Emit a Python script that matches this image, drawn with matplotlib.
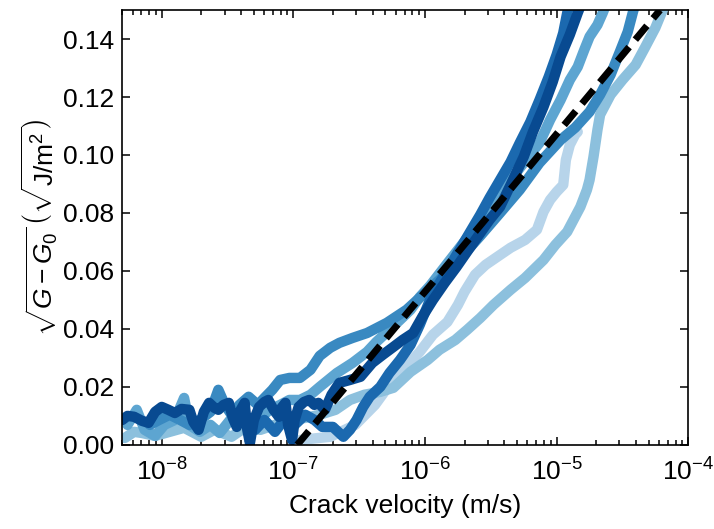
import numpy as np
import matplotlib
matplotlib.use('Agg')
import matplotlib.pyplot as plt

plt.rcParams['font.family'] = ['Liberation Sans', 'DejaVu Sans']
plt.rcParams['mathtext.fontset'] = 'custom'
plt.rcParams['mathtext.rm'] = 'Liberation Sans'
plt.rcParams['mathtext.it'] = 'Liberation Sans:italic'
plt.rcParams['mathtext.bf'] = 'Liberation Sans:bold'

# (log10 crack velocity [m/s], sqrt(G - G0) [sqrt(J/m^2)])
run0 = [(-6.95, 0.0017), (-6.72, 0.0028), (-6.53, 0.0069), (-6.38, 0.0138), (-6.27, 0.0207),
        (-6.15, 0.0266), (-6.04, 0.0321), (-5.94, 0.0380), (-5.83, 0.0424), (-5.75, 0.0483),
        (-5.70, 0.0528), (-5.62, 0.0587), (-5.54, 0.0621), (-5.45, 0.0649), (-5.35, 0.0680),
        (-5.24, 0.0707), (-5.15, 0.0742), (-5.10, 0.0804), (-5.05, 0.0845), (-5.00, 0.0873),
        (-4.95, 0.0897), (-4.93, 0.0983), (-4.90, 0.1035), (-4.86, 0.1070), (-4.84, 0.1080)]

run1 = [(-8.28, 0.0024), (-8.21, 0.0045), (-8.15, 0.0041), (-8.05, 0.0031), (-7.94, 0.0045),
        (-7.83, 0.0059), (-7.70, 0.0028), (-7.60, 0.0052), (-7.47, 0.0028), (-7.37, 0.0059),
        (-7.25, 0.0052), (-7.14, 0.0069), (-7.03, 0.0086), (-6.91, 0.0093), (-6.80, 0.0104),
        (-6.68, 0.0121), (-6.57, 0.0155), (-6.46, 0.0173), (-6.34, 0.0183), (-6.24, 0.0197),
        (-6.11, 0.0252), (-5.98, 0.0293), (-5.89, 0.0328), (-5.77, 0.0362), (-5.68, 0.0397),
        (-5.58, 0.0438), (-5.48, 0.0483), (-5.35, 0.0535), (-5.24, 0.0576), (-5.10, 0.0638),
        (-5.01, 0.0690), (-4.92, 0.0735), (-4.82, 0.0821), (-4.77, 0.0880), (-4.75, 0.0914),
        (-4.72, 0.0994), (-4.69, 0.1087), (-4.67, 0.1139), (-4.59, 0.1208), (-4.50, 0.1259),
        (-4.40, 0.1311), (-4.33, 0.1370), (-4.25, 0.1439), (-4.20, 0.1494), (-4.17, 0.1525)]

run2 = [(-8.26, 0.0069), (-8.19, 0.0121), (-8.13, 0.0052), (-8.05, 0.0031), (-7.98, 0.0069),
        (-7.90, 0.0086), (-7.83, 0.0162), (-7.79, 0.0069), (-7.71, 0.0045), (-7.63, 0.0069),
        (-7.56, 0.0041), (-7.48, 0.0086), (-7.41, 0.0104), (-7.33, 0.0069), (-7.25, 0.0093),
        (-7.18, 0.0121), (-7.10, 0.0138), (-7.03, 0.0155), (-6.95, 0.0155), (-6.87, 0.0173),
        (-6.80, 0.0200), (-6.67, 0.0248), (-6.55, 0.0283), (-6.44, 0.0321), (-6.37, 0.0355),
        (-6.27, 0.0397), (-6.19, 0.0431), (-6.11, 0.0466), (-6.04, 0.0510), (-5.96, 0.0550),
        (-5.81, 0.0638), (-5.66, 0.0725), (-5.51, 0.0828), (-5.35, 0.0914), (-5.25, 0.0973),
        (-5.13, 0.1042), (-5.05, 0.1121), (-4.97, 0.1190), (-4.90, 0.1259), (-4.84, 0.1304),
        (-4.79, 0.1363), (-4.75, 0.1408), (-4.69, 0.1449), (-4.65, 0.1490), (-4.62, 0.1525)]

run3 = [(-8.09, 0.0069), (-8.02, 0.0086), (-7.94, 0.0104), (-7.86, 0.0086), (-7.79, 0.0069),
        (-7.71, 0.0086), (-7.63, 0.0114), (-7.57, 0.0190), (-7.52, 0.0138), (-7.47, 0.0104),
        (-7.41, 0.0138), (-7.34, 0.0166), (-7.27, 0.0138), (-7.22, 0.0162), (-7.16, 0.0190),
        (-7.10, 0.0224), (-7.03, 0.0231), (-6.95, 0.0231), (-6.87, 0.0259), (-6.80, 0.0307),
        (-6.72, 0.0335), (-6.65, 0.0352), (-6.55, 0.0369), (-6.44, 0.0386), (-6.29, 0.0421),
        (-6.14, 0.0466), (-6.00, 0.0524), (-5.89, 0.0569), (-5.73, 0.0645), (-5.58, 0.0721),
        (-5.43, 0.0800), (-5.28, 0.0880), (-5.13, 0.0973), (-4.97, 0.1052), (-4.86, 0.1094),
        (-4.75, 0.1149), (-4.67, 0.1208), (-4.59, 0.1277), (-4.52, 0.1356), (-4.46, 0.1425),
        (-4.42, 0.1494), (-4.40, 0.1525)]

run4 = [(-7.29, 0.0052), (-7.22, 0.0086), (-7.14, 0.0045), (-7.06, 0.0093), (-6.99, 0.0069),
        (-6.91, 0.0104), (-6.84, 0.0086), (-6.78, 0.0062), (-6.70, 0.0062), (-6.62, 0.0028),
        (-6.57, 0.0052), (-6.52, 0.0086), (-6.47, 0.0131), (-6.42, 0.0166), (-6.34, 0.0200),
        (-6.27, 0.0248), (-6.19, 0.0293), (-6.11, 0.0345), (-6.04, 0.0414), (-5.94, 0.0524),
        (-5.85, 0.0587), (-5.76, 0.0656), (-5.67, 0.0725), (-5.58, 0.0794), (-5.51, 0.0852),
        (-5.43, 0.0914), (-5.35, 0.0976), (-5.28, 0.1042), (-5.20, 0.1114), (-5.13, 0.1190),
        (-5.06, 0.1270), (-5.00, 0.1346), (-4.95, 0.1421), (-4.92, 0.1490), (-4.90, 0.1525)]

run5 = [(-8.30, 0.0086), (-8.26, 0.0100), (-8.21, 0.0097), (-8.15, 0.0083), (-8.10, 0.0076),
        (-8.05, 0.0114), (-8.00, 0.0131), (-7.95, 0.0121), (-7.90, 0.0110), (-7.85, 0.0124),
        (-7.79, 0.0121), (-7.76, 0.0079), (-7.72, 0.0052), (-7.68, 0.0114), (-7.64, 0.0145),
        (-7.60, 0.0128), (-7.57, 0.0121), (-7.53, 0.0138), (-7.49, 0.0145), (-7.46, 0.0093),
        (-7.43, 0.0062), (-7.40, 0.0121), (-7.37, 0.0145), (-7.35, 0.0052), (-7.33, 0.0007),
        (-7.30, 0.0086), (-7.26, 0.0131), (-7.22, 0.0148), (-7.19, 0.0155), (-7.15, 0.0121),
        (-7.11, 0.0097), (-7.09, 0.0128), (-7.06, 0.0145), (-7.04, 0.0069), (-7.01, 0.0017),
        (-6.99, 0.0086), (-6.96, 0.0131), (-6.92, 0.0148), (-6.88, 0.0155), (-6.84, 0.0138),
        (-6.81, 0.0145), (-6.76, 0.0121), (-6.71, 0.0173), (-6.65, 0.0214), (-6.57, 0.0224),
        (-6.49, 0.0235), (-6.40, 0.0283), (-6.32, 0.0311), (-6.24, 0.0338), (-6.17, 0.0362),
        (-6.09, 0.0386), (-6.02, 0.0442), (-5.94, 0.0500), (-5.85, 0.0559), (-5.76, 0.0614),
        (-5.67, 0.0673), (-5.58, 0.0731), (-5.51, 0.0776), (-5.43, 0.0821), (-5.35, 0.0897),
        (-5.25, 0.0994), (-5.18, 0.1080), (-5.10, 0.1166), (-5.03, 0.1252), (-4.97, 0.1339),
        (-4.90, 0.1415), (-4.84, 0.1490), (-4.81, 0.1525)]

runs = [run0, run1, run2, run3, run4, run5]

# linear fit in log(v)
fit_v = [1.07e-7, 6.1e-5]
fit_y = [0.0, 0.15]

colors = plt.cm.Blues(np.linspace(0.3, 0.9, len(runs)))

fig = plt.figure(figsize=(7.14, 5.29), dpi=100)
ax = fig.add_axes([0.171, 0.159, 0.793, 0.822])

for run, c in zip(runs, colors):
    d = np.array(run)
    ax.plot(10 ** d[:, 0], d[:, 1], color=c, lw=7.5, solid_joinstyle='round',
            solid_capstyle='round')

ax.plot(fit_v, fit_y, color='black', lw=5, linestyle=(0, (2.6, 1.4)))

ax.set_xscale('log')
ax.set_xlim(5e-9, 1e-4)
ax.set_ylim(0, 0.15)
ax.set_yticks([0.0, 0.02, 0.04, 0.06, 0.08, 0.10, 0.12, 0.14])
ax.set_yticklabels(['0.00', '0.02', '0.04', '0.06', '0.08', '0.10', '0.12', '0.14'])

ax.tick_params(which='both', direction='in', top=True, right=True, labelsize=19, width=1.1)
ax.tick_params(which='major', length=6)
ax.tick_params(which='minor', length=3.5)
ax.tick_params(axis='x', which='major', pad=10)
ax.tick_params(axis='y', which='major', pad=6)
for s in ax.spines.values():
    s.set_linewidth(1.2)

ax.set_xlabel('Crack velocity (m/s)', fontsize=19, labelpad=6)
ax.set_ylabel(r'$\sqrt{G-G_0}\,\left(\sqrt{\mathrm{J/m^2}}\right)$', fontsize=19, labelpad=2)

fig.savefig('out.png', dpi=100)
